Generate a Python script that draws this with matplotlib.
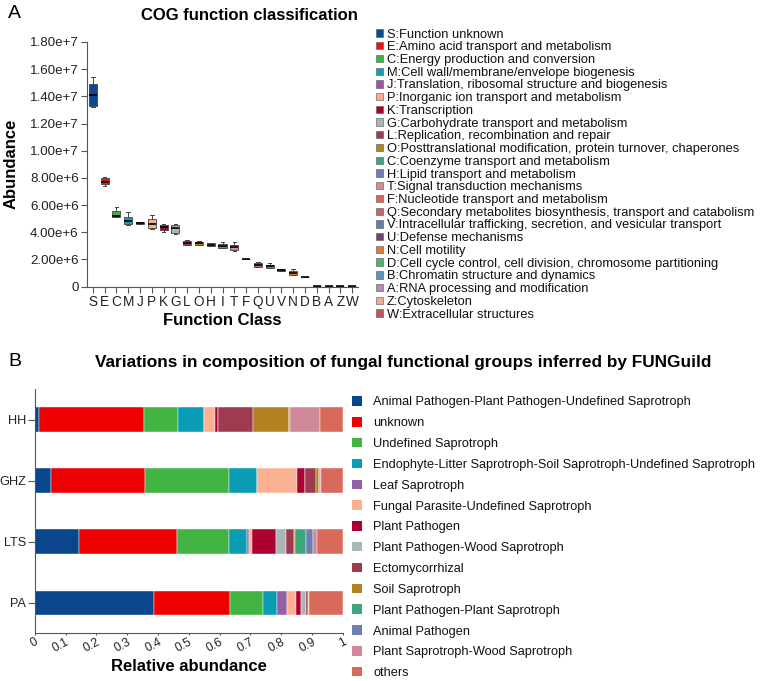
import matplotlib
matplotlib.use("Agg")
import matplotlib.pyplot as plt
from matplotlib.patches import Rectangle

plt.rcParams['font.family'] = ['Liberation Sans', 'DejaVu Sans']

# ---------------- Panel A data ----------------
cog_classes = ["S", "E", "C", "M", "J", "P", "K", "G", "L", "O", "H", "I", "T",
               "F", "Q", "U", "V", "N", "D", "B", "A", "Z", "W"]
cog_lo  = [13.25, 7.40, 5.10, 4.55, 4.60, 4.23, 4.03, 3.87, 3.05, 3.05, 2.95, 2.80, 2.65,
           2.02, 1.45, 1.33, 1.16, 0.84, 0.67, 0.04, 0.02, 0.01, 0.005]
cog_q1  = [13.31, 7.55, 5.14, 4.58, 4.62, 4.28, 4.13, 3.97, 3.06, 3.06, 2.97, 2.82, 2.67,
           2.02, 1.46, 1.34, 1.17, 0.85, 0.67, 0.04, 0.02, 0.01, 0.005]
cog_med = [14.12, 7.68, 5.19, 4.82, 4.70, 4.58, 4.35, 4.29, 3.23, 3.18, 3.08, 2.97, 2.88,
           2.03, 1.58, 1.48, 1.23, 1.02, 0.68, 0.05, 0.03, 0.02, 0.01]
cog_q3  = [14.90, 8.02, 5.56, 5.14, 4.77, 4.94, 4.53, 4.54, 3.38, 3.31, 3.19, 3.14, 3.04,
           2.04, 1.71, 1.61, 1.29, 1.14, 0.69, 0.06, 0.04, 0.03, 0.02]
cog_hi  = [15.45, 8.04, 5.82, 5.46, 4.78, 5.26, 4.60, 4.59, 3.45, 3.34, 3.22, 3.26, 3.24,
           2.05, 1.83, 1.71, 1.30, 1.31, 0.70, 0.07, 0.05, 0.04, 0.03]
cog_legend = ["S:Function unknown",
              "E:Amino acid transport and metabolism",
              "C:Energy production and conversion",
              "M:Cell wall/membrane/envelope biogenesis",
              "J:Translation, ribosomal structure and biogenesis",
              "P:Inorganic ion transport and metabolism",
              "K:Transcription",
              "G:Carbohydrate transport and metabolism",
              "L:Replication, recombination and repair",
              "O:Posttranslational modification, protein turnover, chaperones",
              "C:Coenzyme transport and metabolism",
              "H:Lipid transport and metabolism",
              "T:Signal transduction mechanisms",
              "F:Nucleotide transport and metabolism",
              "Q:Secondary metabolites biosynthesis, transport and catabolism",
              "V:Intracellular trafficking, secretion, and vesicular transport",
              "U:Defense mechanisms",
              "N:Cell motility",
              "D:Cell cycle control, cell division, chromosome partitioning",
              "B:Chromatin structure and dynamics",
              "A:RNA processing and modification",
              "Z:Cytoskeleton",
              "W:Extracellular structures"]
cog_colors = ["#0b4a8f", "#ee1111", "#3cb44b", "#129fb6", "#9358a6", "#f9ad8e", "#b0002c",
              "#aab5b5", "#a03a4e", "#b5851c", "#3ea57d", "#6c7eb3", "#d4889a", "#dd6655",
              "#c06a6a", "#6b7ba8", "#6a4472", "#e07a35", "#57ad6c", "#5b94bb", "#b887b6",
              "#f4a890", "#b85a5a"]
cog_yticks = [0, 2e6, 4e6, 6e6, 8e6, 1e7, 1.2e7, 1.4e7, 1.6e7, 1.8e7]
cog_yticklabels = ["0", "2.00e+6", "4.00e+6", "6.00e+6", "8.00e+6", "1.00e+7",
                   "1.20e+7", "1.40e+7", "1.60e+7", "1.80e+7"]

# ---------------- Panel B data ----------------
sites = ["PA", "LTS", "GHZ", "HH"]
guilds = ["Animal Pathogen-Plant Pathogen-Undefined Saprotroph", "unknown",
          "Undefined Saprotroph",
          "Endophyte-Litter Saprotroph-Soil Saprotroph-Undefined Saprotroph",
          "Leaf Saprotroph", "Fungal Parasite-Undefined Saprotroph", "Plant Pathogen",
          "Plant Pathogen-Wood Saprotroph", "Ectomycorrhizal", "Soil Saprotroph",
          "Plant Pathogen-Plant Saprotroph", "Animal Pathogen",
          "Plant Saprotroph-Wood Saprotroph", "others"]
# values per guild, ordered as sites [PA, LTS, GHZ, HH]
g_animal_plant_undef = [0.386, 0.145, 0.052, 0.014]
g_unknown            = [0.248, 0.317, 0.305, 0.341]
g_undef_sap          = [0.108, 0.169, 0.273, 0.110]
g_endophyte          = [0.046, 0.059, 0.093, 0.085]
g_leaf_sap           = [0.032, 0.005, 0.000, 0.000]
g_fungal_parasite    = [0.029, 0.012, 0.130, 0.035]
g_plant_pathogen     = [0.017, 0.075, 0.024, 0.009]
g_pp_wood            = [0.015, 0.034, 0.000, 0.000]
g_ectomyc            = [0.006, 0.025, 0.037, 0.114]
g_soil_sap           = [0.003, 0.003, 0.009, 0.117]
g_pp_plant_sap       = [0.000, 0.037, 0.001, 0.002]
g_animal_path        = [0.000, 0.022, 0.001, 0.001]
g_ps_wood            = [0.000, 0.014, 0.005, 0.097]
g_others             = [0.110, 0.083, 0.070, 0.075]
guild_values = [g_animal_plant_undef, g_unknown, g_undef_sap, g_endophyte, g_leaf_sap,
                g_fungal_parasite, g_plant_pathogen, g_pp_wood, g_ectomyc, g_soil_sap,
                g_pp_plant_sap, g_animal_path, g_ps_wood, g_others]
guild_colors = ["#0a468c", "#ee0000", "#42b443", "#0a9bb5", "#9460a6", "#fbb092",
                "#ab0030", "#aab6b5", "#9f3b50", "#b38120", "#3fa67c", "#6b7fb1",
                "#cf8898", "#d86a5c"]
b_xticks = [0, 0.1, 0.2, 0.3, 0.4, 0.5, 0.6, 0.7, 0.8, 0.9, 1]
b_xticklabels = ["0", "0.1", "0.2", "0.3", "0.4", "0.5", "0.6", "0.7", "0.8", "0.9", "1"]

# ---------------- Figure ----------------
W, H = 767, 681
fig = plt.figure(figsize=(W / 100, H / 100), dpi=100)

def fx(px):
    return px / W

def fy(py):
    return 1 - py / H

def legend_rows(labels, colors, sq_x, sq_w, sq_h, text_x, y0, dy, fontsize, edge):
    for i, (lab, col) in enumerate(zip(labels, colors)):
        yc = y0 + i * dy
        fig.patches.append(Rectangle((fx(sq_x), fy(yc + sq_h / 2)), sq_w / W, sq_h / H,
                                     transform=fig.transFigure, facecolor=col,
                                     edgecolor=edge, linewidth=0.4))
        fig.text(fx(text_x), fy(yc), lab, fontsize=fontsize, ha="left", va="center_baseline",
                 color="#111111")

spine_col = "#555555"

# ---- Panel A ----
axA = fig.add_axes([fx(87), fy(286.5), fx(358) - fx(87), fy(42) - fy(286.5)])
stats = []
for i, c in enumerate(cog_classes):
    stats.append(dict(label=c, med=cog_med[i] * 1e6, q1=cog_q1[i] * 1e6, q3=cog_q3[i] * 1e6,
                      whislo=cog_lo[i] * 1e6, whishi=cog_hi[i] * 1e6, fliers=[]))
bp = axA.bxp(stats, positions=range(len(cog_classes)), widths=0.68, patch_artist=True,
             showfliers=False,
             boxprops=dict(linewidth=0.6, edgecolor="#444444"),
             medianprops=dict(color="black", linewidth=1.2),
             whiskerprops=dict(color="#444444", linewidth=0.7),
             capprops=dict(color="#444444", linewidth=0.7), capwidths=0.3)
for patch, col in zip(bp["boxes"], cog_colors):
    patch.set_facecolor(col)
axA.set_xlim(-0.5, len(cog_classes) - 0.5)
axA.set_ylim(0, 1.8e7)
axA.set_yticks(cog_yticks)
axA.set_yticklabels(cog_yticklabels, fontsize=9.6)
axA.set_xticks(range(len(cog_classes)))
axA.set_xticklabels(cog_classes, fontsize=9.8)
for s in ["top", "right"]:
    axA.spines[s].set_visible(False)
for s in ["left", "bottom"]:
    axA.spines[s].set_color(spine_col)
    axA.spines[s].set_linewidth(0.8)
axA.tick_params(colors=spine_col, length=4, width=0.8, labelcolor="#222222", pad=2)
axA.set_ylabel("Abundance", fontsize=12, fontweight="bold", labelpad=8)
axA.set_xlabel("Function Class", fontsize=12, fontweight="bold", labelpad=3)
fig.text(fx(249), fy(15), "COG function classification", fontsize=12, fontweight="bold",
         ha="center", va="center")
fig.text(fx(8), fy(14), "A", fontsize=14, ha="left", va="center")

legend_rows(cog_legend, cog_colors, sq_x=376, sq_w=7.3, sq_h=7.3, text_x=387,
            y0=33, dy=12.73, fontsize=9.3, edge="#555555")

# ---- Panel B ----
axB = fig.add_axes([fx(34.7), fy(633.3), fx(342.7) - fx(34.7), fy(389) - fy(633.3)])
left = [0.0] * len(sites)
for vals, col in zip(guild_values, guild_colors):
    axB.barh(range(len(sites)), vals, left=left, height=0.4, color=col,
             edgecolor="white", linewidth=0.3)
    left = [l + v for l, v in zip(left, vals)]
axB.set_xlim(0, 1)
axB.set_ylim(-0.5, len(sites) - 0.5)
axB.set_yticks(range(len(sites)))
axB.set_yticklabels(sites, fontsize=9.2)
axB.set_xticks(b_xticks)
axB.set_xticklabels(b_xticklabels, fontsize=8.8, rotation=28, ha="right", va="top",
                    rotation_mode="anchor")
for s in ["top", "right"]:
    axB.spines[s].set_visible(False)
for s in ["left", "bottom"]:
    axB.spines[s].set_color(spine_col)
    axB.spines[s].set_linewidth(0.8)
axB.tick_params(axis="y", colors=spine_col, length=5, width=0.8, labelcolor="#222222", pad=1)
axB.tick_params(axis="x", colors=spine_col, length=1.5, width=0.8, labelcolor="#222222", pad=0.5)
axB.set_xlabel("Relative abundance", fontsize=12, fontweight="bold")
axB.xaxis.set_label_coords(0.5, -(666.5 - 633.3) / 244.3)
axB.xaxis.label.set_va("center")
fig.text(fx(403), fy(362), "Variations in composition of fungal functional groups inferred by FUNGuild",
         fontsize=12.4, fontweight="bold", ha="center", va="center")
fig.text(fx(8), fy(362), "B", fontsize=14, ha="left", va="center")

legend_rows(guilds, guild_colors, sq_x=352, sq_w=10, sq_h=9.5, text_x=373,
            y0=401, dy=20.82, fontsize=9.2, edge="none")

fig.savefig("out.png", dpi=100)
